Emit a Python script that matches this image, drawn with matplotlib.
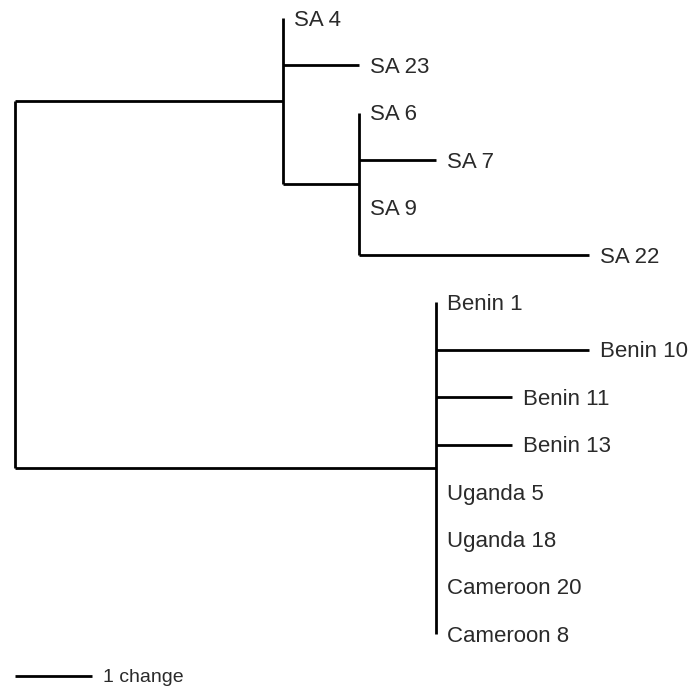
import matplotlib
matplotlib.use("Agg")
import matplotlib.pyplot as plt

# tree data: leaves in drawing order, their parent node and branch length (changes)
leaves = ['SA 4', 'SA 23', 'SA 6', 'SA 7', 'SA 9', 'SA 22',
          'Benin 1', 'Benin 10', 'Benin 11', 'Benin 13',
          'Uganda 5', 'Uganda 18', 'Cameroon 20', 'Cameroon 8']
leaf_parent = ['A', 'A', 'B', 'B', 'B', 'B',
               'C', 'C', 'C', 'C', 'C', 'C', 'C', 'C']
leaf_len = [0, 1, 0, 1, 0, 3,
            0, 2, 1, 1, 0, 0, 0, 0]

# internal nodes, listed parent first
nodes = ['root', 'A', 'B', 'C']
node_parent = [None, 'root', 'A', 'root']
node_len = [0, 3.5, 1, 5.5]

scale_len = 1
scale_label = '1 change'

# x positions
node_x = {}
for n, p, l in zip(nodes, node_parent, node_len):
    node_x[n] = 0 if p is None else node_x[p] + l
leaf_x = [node_x[p] + l for p, l in zip(leaf_parent, leaf_len)]
leaf_y = list(range(len(leaves)))

# children of each node (leaves and nodes), ordered by y
children = {n: [] for n in nodes}
for i, p in enumerate(leaf_parent):
    children[p].append(('leaf', i))
for n, p in zip(nodes, node_parent):
    if p is not None:
        children[p].append(('node', n))

node_y = {}
def get_y(n):
    if n in node_y:
        return node_y[n]
    ys = []
    for kind, c in children[n]:
        ys.append(leaf_y[c] if kind == 'leaf' else get_y(c))
    node_y[n] = (min(ys) + max(ys)) / 2
    return node_y[n]
for n in nodes:
    get_y(n)

plt.rcParams['font.family'] = ['Liberation Sans', 'DejaVu Sans']
fig = plt.figure(figsize=(6.94, 6.88), dpi=100)
ax = fig.add_axes([0, 0, 1, 1])

px_per_change = 76.5
px_per_leaf = 47.4
ax.set_xlim(-15 / px_per_change, (694 - 15) / px_per_change)
ax.set_ylim((688 - 18) / px_per_leaf, -18 / px_per_leaf)
ax.axis('off')

lw = 2.0
col = 'black'
txt_col = '#2a2a2a'

# vertical lines at each internal node
for n in nodes:
    ys = [leaf_y[c] if k == 'leaf' else node_y[c] for k, c in children[n]]
    ax.plot([node_x[n], node_x[n]], [min(ys), max(ys)], color=col, lw=lw,
            solid_capstyle='butt')

# horizontal branches for internal nodes
for n, p in zip(nodes, node_parent):
    if p is not None:
        ax.plot([node_x[p], node_x[n]], [node_y[n], node_y[n]], color=col, lw=lw,
                solid_capstyle='butt')

# leaf branches and labels
for name, p, x, y in zip(leaves, leaf_parent, leaf_x, leaf_y):
    if x > node_x[p]:
        ax.plot([node_x[p], x], [y, y], color=col, lw=lw, solid_capstyle='butt')
    ax.annotate(name, (x, y), xytext=(8, -1.5), textcoords='offset points',
                ha='left', va='center', fontsize=16, color=txt_col)

# scale bar
sb_y = len(leaves) - 1 + 0.88
ax.plot([0, scale_len], [sb_y, sb_y], color=col, lw=lw, solid_capstyle='butt')
ax.annotate(scale_label, (scale_len, sb_y), xytext=(8, -1), textcoords='offset points',
            ha='left', va='center', fontsize=14, color=txt_col)

fig.savefig('out.png', dpi=100)
